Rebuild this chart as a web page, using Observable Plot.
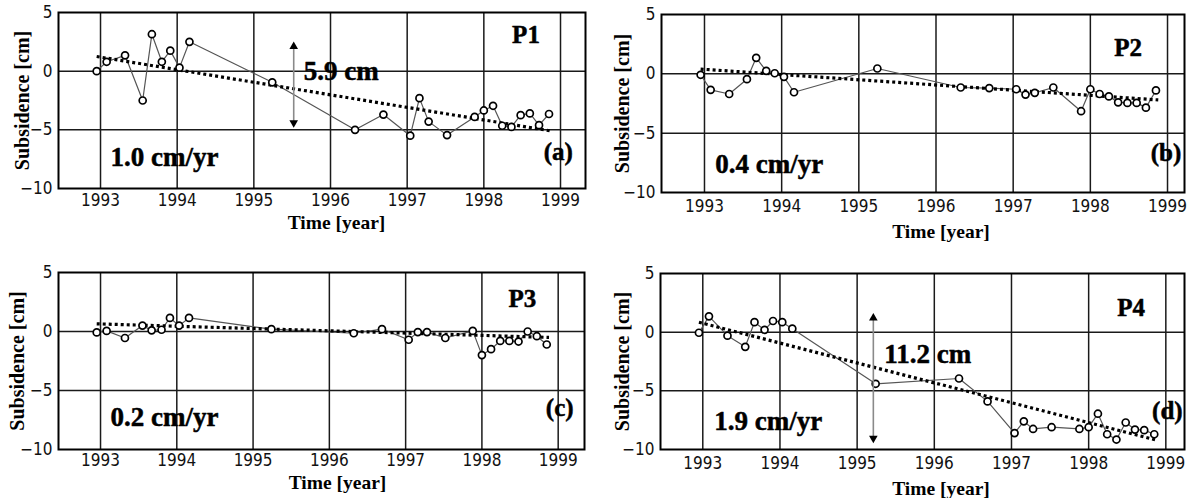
<!DOCTYPE html>
<html><head><meta charset="utf-8">
<script src="https://cdn.jsdelivr.net/npm/d3@7"></script>
<script src="https://cdn.jsdelivr.net/npm/@observablehq/plot@0.6"></script>
<style>
html,body{margin:0;padding:0;background:#fff;}
#root{position:relative;width:1192px;height:498px;overflow:hidden;background:#fff;}
#root > div{position:absolute;}
svg{display:block;overflow:visible;}
</style></head><body><div id="root"></div>
<script>
// Acquisition dates (decimal years), shared by all four points
const dates = [1992.95, 1993.08, 1993.32, 1993.55, 1993.67, 1993.80, 1993.91, 1994.03, 1994.16, 1995.24, 1996.32, 1996.69, 1997.04, 1997.16, 1997.28, 1997.52, 1997.88, 1998.00, 1998.12, 1998.24, 1998.36, 1998.48, 1998.60, 1998.72, 1998.85];
// Subsidence series [cm]
const p1 = [0.0, 0.8, 1.35, -2.5, 3.15, 0.8, 1.75, 0.3, 2.5, -0.95, -5.0, -3.7, -5.5, -2.3, -4.3, -5.45, -3.9, -3.35, -2.95, -4.65, -4.75, -3.75, -3.6, -4.6, -3.65];
const p2 = [-0.08, -1.35, -1.7, -0.45, 1.35, 0.25, 0.05, -0.25, -1.55, 0.45, -1.15, -1.2, -1.3, -1.75, -1.6, -1.15, -3.15, -1.3, -1.7, -1.9, -2.4, -2.45, -2.45, -2.85, -1.4];
const p3 = [-0.08, 0.05, -0.55, 0.5, 0.1, 0.15, 1.15, 0.5, 1.15, 0.2, -0.15, 0.2, -0.7, -0.05, -0.05, -0.55, 0.05, -2.0, -1.5, -0.8, -0.8, -0.85, 0.0, -0.4, -1.1];
const p4 = [-0.05, 1.35, -0.3, -1.25, 0.85, 0.2, 0.95, 0.85, 0.3, -4.4, -3.95, -5.9, -8.6, -7.6, -8.25, -8.1, -8.25, -8.1, -6.95, -8.7, -9.15, -7.7, -8.3, -8.35, -8.7];
// Linear trend end points
const trendYears = [1992.95, 1998.88];
const trend1 = [1.25, -5.1];
const trend2 = [0.4, -2.2];
const trend3 = [0.65, -0.5];
const trend4 = [0.85, -9.2];
// Ticks and labels
const yearTicks = [1993, 1994, 1995, 1996, 1997, 1998, 1999];
const valueTicks = [-10, -5, 0, 5];
const gridValues = [-5, 0];
const panelNames = ["P1", "P2", "P3", "P4"];
const panelLetters = ["(a)", "(b)", "(c)", "(d)"];
const rateLabels = ["1.0 cm/yr", "0.4 cm/yr", "0.2 cm/yr", "1.9 cm/yr"];
const spanLabels = ["5.9 cm", null, null, "11.2 cm"];
const xLabel = "Time [year]";
const yLabel = "Subsidence [cm]";

const series = [p1, p2, p3, p4];
const trends = [trend1, trend2, trend3, trend4];

// layout per panel
const layout = [
  {box:{left:0, top:0, w:595, h:245}, m:{l:58, r:10, t:12, b:57}, xd:[1992.452, 1999.326],
   name:[1998.55, 3.1], letter:[1998.97, -6.85], rate:[1993.13, -7.35],
   span:[1995.65, 0], arrow:{x:1995.52, y1:2.1, y2:-4.4},
   yLabDx:-35.5, xLabDx:14.5, xLabDy:34, xPad:5},
  {box:{left:600, top:0, w:592, h:245}, m:{l:61, r:8, t:14, b:53}, xd:[1992.443, 1999.22],
   name:[1998.49, 2.17], letter:[1998.98, -6.67], rate:[1993.14, -7.6],
   yLabDx:-39, xLabDx:18, xLabDy:39, xPad:7},
  {box:{left:0, top:250, w:595, h:248}, m:{l:58, r:11, t:22, b:49}, xd:[1992.449, 1999.345],
   name:[1998.53, 2.75], letter:[1999.02, -6.5], rate:[1993.13, -7.25],
   yLabDx:-40.5, xLabDx:16, xLabDy:33, xPad:4},
  {box:{left:600, top:250, w:592, h:248}, m:{l:60, r:8, t:23, b:49}, xd:[1992.452, 1999.242],
   name:[1998.55, 2.04], letter:[1999.02, -6.7], rate:[1993.15, -7.56],
   span:[1995.35, -1.9], arrow:{x:1995.21, y1:1.2, y2:-9.05},
   yLabDx:-38, xLabDx:18.5, xLabDy:39, xPad:7}
];

const serif = "'Liberation Serif', 'Times New Roman', serif";
const sans = "'DejaVu Sans Condensed', 'DejaVu Sans', sans-serif";
const root = document.getElementById("root");

series.forEach((values, i) => {
  const L = layout[i];
  const pts = dates.map((d, k) => ({date: d, value: values[k]}));
  const tr = trendYears.map((d, k) => ({date: d, value: trends[i][k]}));
  const bold = {fontFamily: serif, fontWeight: "bold", fill: "#000"};
  const heavy = {...bold, stroke: "#000", strokeWidth: 0.5};
  const marks = [
    Plot.gridX(yearTicks, {stroke: "#1a1a1a", strokeOpacity: 1, strokeWidth: 1.5}),
    Plot.gridY(gridValues, {stroke: "#1a1a1a", strokeOpacity: 1, strokeWidth: 1.5}),
    Plot.axisX(yearTicks, {tickSize: 0, tickPadding: L.xPad, tickFormat: "d", fontSize: 17, fontFamily: sans, fill: "#111", label: null}),
    Plot.axisY(valueTicks, {tickSize: 0, tickPadding: 6, fontSize: 17, fontFamily: sans, fill: "#111", label: null}),
    Plot.lineY(pts, {x: "date", y: "value", stroke: "#555", strokeWidth: 1.2}),
    Plot.lineY(tr, {x: "date", y: "value", stroke: "#000", strokeWidth: 3.2, strokeDasharray: "3 3", strokeLinecap: "butt"}),
    Plot.dot(pts, {x: "date", y: "value", r: 3.5, stroke: "#000", strokeWidth: 1.7, fill: "#fff"}),
    Plot.frame({stroke: "#000", strokeWidth: 2}),
    Plot.text([panelNames[i]], {x: () => L.name[0], y: () => L.name[1], text: d => d, fontSize: 25, textAnchor: "middle", ...heavy}),
    Plot.text([panelLetters[i]], {x: () => L.letter[0], y: () => L.letter[1], text: d => d, fontSize: 25, textAnchor: "middle", ...heavy}),
    Plot.text([rateLabels[i]], {x: () => L.rate[0], y: () => L.rate[1], text: d => d, fontSize: 27, textAnchor: "start", ...heavy}),
    Plot.text([yLabel], {frameAnchor: "left", dx: L.yLabDx, rotate: -90, textAnchor: "middle", fontSize: 20, ...bold}),
    Plot.text([xLabel], {frameAnchor: "bottom", dx: L.xLabDx, dy: L.xLabDy, textAnchor: "middle", lineAnchor: "middle", fontSize: 19.5, ...bold})
  ];
  if (spanLabels[i]) {
    const a = L.arrow;
    marks.push(
      Plot.link([a], {x1: "x", x2: "x", y1: "y1", y2: "y2", stroke: "#8a8a8a", strokeWidth: 1.6}),
      Plot.dot([{x: a.x, y: a.y1, r: 0}, {x: a.x, y: a.y2, r: 180}], {x: "x", y: "y", rotate: "r", symbol: "triangle", r: 3.2, fill: "#000", stroke: "none"}),
      Plot.text([spanLabels[i]], {x: () => L.span[0], y: () => L.span[1], text: d => d, fontSize: 27, textAnchor: "start", ...heavy})
    );
  }
  const svg = Plot.plot({
    width: L.box.w, height: L.box.h,
    marginLeft: L.m.l, marginRight: L.m.r, marginTop: L.m.t, marginBottom: L.m.b,
    x: {domain: L.xd, axis: null},
    y: {domain: [-10, 5], axis: null},
    style: {fontFamily: sans, fontSize: "17px", background: "transparent", overflow: "visible"},
    marks
  });
  const div = document.createElement("div");
  div.style.left = L.box.left + "px";
  div.style.top = L.box.top + "px";
  div.appendChild(svg);
  root.appendChild(div);
});
</script>
</body></html>
